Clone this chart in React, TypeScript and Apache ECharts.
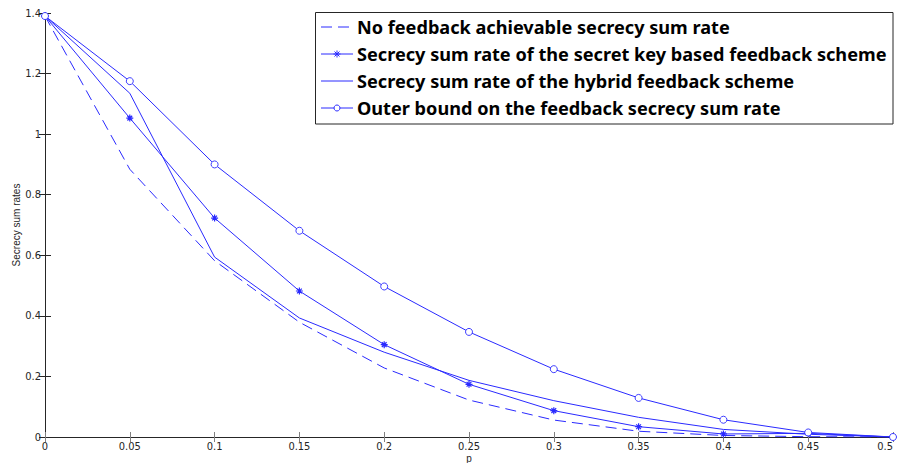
import React, { useEffect, useRef } from "react";
import * as echarts from "echarts";

const pValues = [0, 0.05, 0.1, 0.15, 0.2, 0.25, 0.3, 0.35, 0.4, 0.45, 0.5];
const noFeedback = [1.39, 0.884, 0.582, 0.379, 0.228, 0.122, 0.056, 0.019, 0.005, 0.001, 0];
const secretKey = [1.39, 1.053, 0.723, 0.482, 0.305, 0.174, 0.087, 0.034, 0.01, 0.012, 0];
const hybrid = [1.39, 1.135, 0.594, 0.393, 0.28, 0.187, 0.12, 0.065, 0.025, 0.009, 0];
const outerBound = [1.39, 1.175, 0.9, 0.681, 0.497, 0.347, 0.224, 0.129, 0.057, 0.015, 0];
const legendNames = [
  "No feedback achievable secrecy sum rate",
  "Secrecy sum rate of the secret key based feedback scheme",
  "Secrecy sum rate of the hybrid feedback scheme",
  "Outer bound on the feedback secrecy sum rate",
];

const BLUE = "#2a2aff";
const STAR = "path://M5,0L5,10M0,5L10,5M1.6,1.6L8.4,8.4M1.6,8.4L8.4,1.6";
const LEGEND_FAMILY = "'Noto Sans', 'Liberation Sans', Arial, sans-serif";

const fmt = (v: number) => String(+v.toFixed(2));

function legendFontSize(): number {
  try {
    const ctx = document.createElement("canvas").getContext("2d")!;
    ctx.font = "bold 18px " + LEGEND_FAMILY;
    const w = ctx.measureText(legendNames[1]).width;
    if (w > 0) return Math.max(14, Math.min(20, (18 * 530) / w));
  } catch (e) {}
  return 18;
}

export default function App() {
  const ref = useRef<HTMLDivElement>(null);
  useEffect(() => {
    const chart = echarts.init(ref.current!, null, { renderer: "svg" });
    const pairs = (ys: number[]) => pValues.map((p, i) => [p, ys[i]]);
    const tickFont = { fontFamily: "Liberation Sans Narrow, DejaVu Sans Condensed, Arial", fontSize: 11, lineHeight: 11, color: "#262626" };
    const fs = legendFontSize();

    const lx1 = 321, lx2 = 353, tx = 357;
    const rowsY = [27, 54, 81, 108];
    const legendEls: any[] = [
      { type: "rect", shape: { x: 315.5, y: 12.5, width: 577.5, height: 111.5 }, style: { fill: "#fff", stroke: "#262626", lineWidth: 1 }, z: 100 },
    ];
    rowsY.forEach((cy, i) => {
      legendEls.push({
        type: "line",
        shape: { x1: lx1, y1: cy, x2: lx2, y2: cy },
        style: { stroke: BLUE, lineWidth: 1, lineDash: i === 0 ? [11, 6] : null },
        z: 101,
      });
      if (i === 1) {
        [[0, -3.5, 0, 3.5], [-3.5, 0, 3.5, 0], [-2.5, -2.5, 2.5, 2.5], [-2.5, 2.5, 2.5, -2.5]].forEach((s) =>
          legendEls.push({
            type: "line",
            shape: { x1: 337 + s[0], y1: cy + s[1], x2: 337 + s[2], y2: cy + s[3] },
            style: { stroke: BLUE, lineWidth: 1 },
            z: 102,
          })
        );
      }
      if (i === 3) {
        legendEls.push({ type: "circle", shape: { cx: 337, cy, r: 3 }, style: { fill: "#fff", stroke: BLUE, lineWidth: 1 }, z: 102 });
      }
      legendEls.push({
        type: "text",
        x: tx,
        y: cy,
        style: {
          text: legendNames[i],
          fill: "#000",
          font: "bold " + fs.toFixed(2) + "px " + LEGEND_FAMILY,
          verticalAlign: "middle",
          align: "left",
        },
        z: 103,
      });
    });

    chart.setOption({
      animation: false,
      backgroundColor: "#fff",
      grid: { left: 45, right: 4, top: 13, bottom: 26, containLabel: false, outerBoundsMode: "none" },
      xAxis: [
        {
          type: "value",
          min: 0,
          max: 0.5,
          interval: 0.05,
          name: "p",
          nameLocation: "middle",
          nameGap: 16,
          nameMoveOverlap: false,
          nameTextStyle: { fontFamily: "Liberation Sans, Arial", fontSize: 10, lineHeight: 10, color: "#262626" },
          axisLine: { show: true, lineStyle: { color: "#262626", width: 1 } },
          axisTick: { show: true, inside: true, length: 5, lineStyle: { color: "#808080" } },
          axisLabel: { ...tickFont, margin: 4, formatter: fmt, alignMaxLabel: "right" },
          splitLine: { show: false },
        },
        {
          type: "value",
          position: "top",
          min: 0,
          max: 0.5,
          interval: 0.05,
          axisLine: { show: true, lineStyle: { color: "#262626", width: 1 } },
          axisTick: { show: true, inside: true, length: 5, lineStyle: { color: "#808080" } },
          axisLabel: { show: false },
          splitLine: { show: false },
        },
      ],
      yAxis: [
        {
          type: "value",
          min: 0,
          max: 1.4,
          interval: 0.2,
          name: "Secrecy sum rates",
          nameLocation: "middle",
          nameGap: 24,
          nameMoveOverlap: false,
          nameRotate: 90,
          nameTextStyle: { fontFamily: "Liberation Sans, Arial", fontSize: 10, color: "#262626" },
          axisLine: { show: true, lineStyle: { color: "#808080", width: 1 } },
          axisTick: { show: true, inside: true, length: 6, lineStyle: { color: "#262626" } },
          axisLabel: { ...tickFont, margin: 4, formatter: fmt },
          splitLine: { show: false },
        },
        {
          type: "value",
          position: "right",
          min: 0,
          max: 1.4,
          interval: 0.2,
          axisLine: { show: true, lineStyle: { color: "#262626", width: 1 } },
          axisTick: { show: true, inside: true, length: 6, lineStyle: { color: "#262626" } },
          axisLabel: { show: false },
          splitLine: { show: false },
        },
      ],
      series: [
        {
          name: legendNames[0],
          type: "line",
          data: pairs(noFeedback),
          symbol: "none",
          lineStyle: { color: BLUE, width: 1, type: [11, 6] },
          itemStyle: { color: BLUE },
        },
        {
          name: legendNames[1],
          type: "line",
          data: pairs(secretKey),
          symbol: STAR,
          symbolSize: 7,
          lineStyle: { color: BLUE, width: 1 },
          itemStyle: { color: BLUE, borderColor: BLUE, borderWidth: 1.2 },
        },
        {
          name: legendNames[2],
          type: "line",
          data: pairs(hybrid),
          symbol: "none",
          lineStyle: { color: BLUE, width: 1 },
          itemStyle: { color: BLUE },
        },
        {
          name: legendNames[3],
          type: "line",
          data: pairs(outerBound),
          symbol: "circle",
          symbolSize: 7,
          lineStyle: { color: BLUE, width: 1 },
          itemStyle: { color: "#fff", borderColor: BLUE, borderWidth: 0.9 },
        },
      ],
      graphic: legendEls,
    });
    return () => chart.dispose();
  }, []);
  return <div ref={ref} style={{ width: 897, height: 463, position: "absolute", left: 0, top: 0 }} />;
}
